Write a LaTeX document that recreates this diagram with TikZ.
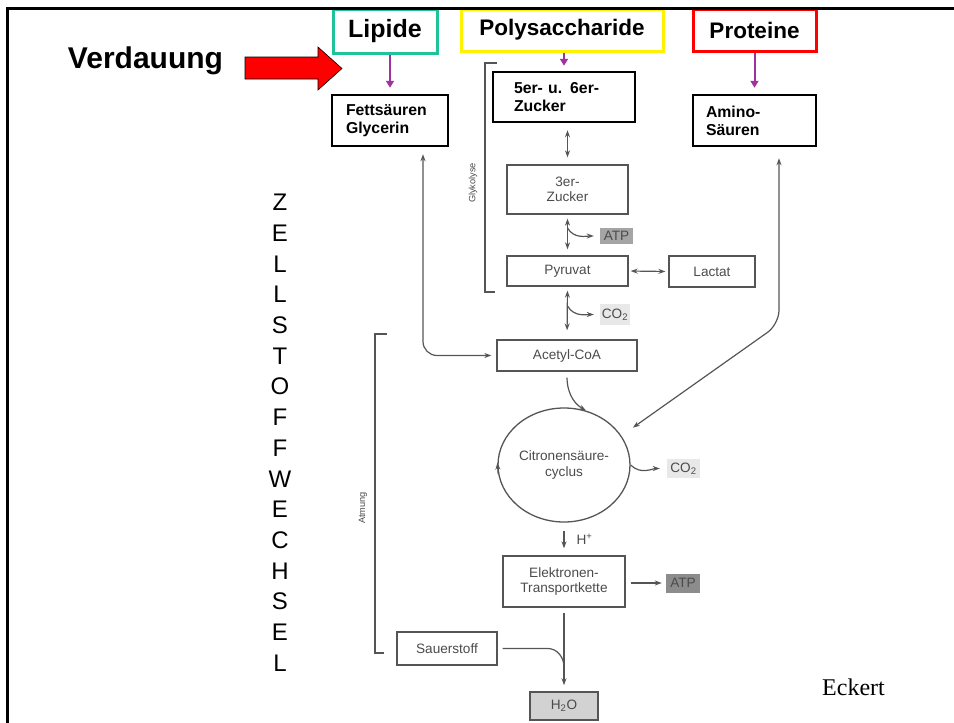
\documentclass[tikz,border=0pt]{standalone}
\usepackage{fontspec}
\setmainfont{Liberation Sans}
\newfontfamily\serifschrift{Liberation Serif}
\usepackage{tikz}
\usetikzlibrary{arrows.meta,shapes.geometric}

\definecolor{lipgruen}{RGB}{30,195,155}
\definecolor{lila}{RGB}{160,50,160}
\definecolor{strich}{RGB}{85,85,85}
\definecolor{schrift}{RGB}{75,75,75}
\definecolor{atpgrau}{RGB}{165,165,165}
\definecolor{atpdunkel}{RGB}{140,140,140}
\definecolor{co2grau}{RGB}{232,232,232}
\definecolor{wassergrau}{RGB}{210,210,210}

\tikzset{
 titel/.style={draw, line width=3pt, font=\bfseries\fontsize{22.5}{26}\selectfont, inner sep=0pt},
 stoff/.style={draw, line width=2.5pt, font=\bfseries\fontsize{15.8}{18}\selectfont, align=left, inner ysep=0pt},
 gbox/.style={draw=strich, line width=1.3pt, font=\fontsize{13.6}{15.5}\selectfont, text=schrift, align=center, inner sep=0pt},
 gtag/.style={font=\fontsize{13.6}{15}\selectfont, text=schrift, inner sep=0pt},
 gpfeil/.style={draw=strich, line width=1.2pt, -{Stealth[length=7pt,width=5pt]}},
 gdoppel/.style={draw=strich, line width=1.2pt, {Stealth[length=7pt,width=5pt]}-{Stealth[length=7pt,width=5pt]}},
 parrow/.style={draw=lila, line width=2pt, -{Triangle[length=7pt,width=8pt]}},
 klammer/.style={draw=strich, line width=1.2pt},
}

\begin{document}
\begin{tikzpicture}[x=1pt,y=1pt]
\useasboundingbox (0,0) rectangle (954,-723);
%----------------------------------
\node[font=\bfseries\fontsize{30}{34}\selectfont, anchor=base] (verdauung) at (145.5,-68) {Verdauung};
\draw[fill=red, draw=black, line width=0.6pt] (245,-57) -- (318,-57) -- (318,-47) -- (342,-68.5) -- (318,-90) -- (318,-79) -- (245,-79) -- cycle;
%----------------------------------
\node[titel, draw=lipgruen, font=\bfseries\fontsize{25}{28}\selectfont, minimum width=104pt, minimum height=44pt] (lipide) at (385,-31) {Lipide};
\node[titel, draw=yellow, minimum width=202pt, minimum height=42pt] (polysac) at (562,-30) {Polysaccharide};
\node[titel, draw=red, minimum width=123pt, minimum height=42pt] (proteine) at (754.5,-30) {Proteine};
%----------------------------------
\node[stoff, minimum height=51pt, text width=88pt, inner xsep=14pt] (fett) at (390,-120.5) {Fettsäuren\\Glycerin};
\node[stoff, minimum height=50pt, text width=100pt, inner xsep=21pt] (zucker56) at (564,-97) {5er- u. 6er-\\Zucker};
\node[stoff, minimum height=51pt, text width=97pt, inner xsep=13pt] (amino) at (754.5,-120.5) {Amino-\\Säuren};
\draw[parrow, shorten >=6pt] (lipide.south -| fett.north) -- (fett.north);
\draw[parrow, shorten >=5pt] (zucker56.north |- polysac.south) -- (zucker56.north);
\draw[parrow, shorten >=6pt] (proteine.south) -- (amino.north);
%----------------------------------
\node[gbox, minimum width=121pt, minimum height=49pt] (zucker3) at (567.5,-189.5) {3er-\\Zucker};
\node[gbox, minimum width=121pt, minimum height=30pt] (pyruvat) at (567.5,-271) {Pyruvat};
\node[gbox, minimum width=86pt, minimum height=31pt] (lactat) at (712,-271.5) {Lactat};
\node[gbox, minimum width=140pt, minimum height=31pt] (acetyl) at (567,-355.5) {Acetyl-CoA};
\node[gbox, ellipse, minimum width=132pt, minimum height=114pt] (cyclus) at (564,-465) {Citronensäure-\\cyclus};
\node[gbox, minimum width=122pt, minimum height=51pt] (etk) at (564,-581.5) {Elektronen-\\Transportkette};
\node[gbox, minimum width=100pt, minimum height=33pt] (sauerstoff) at (447,-648.5) {Sauerstoff};
\node[gbox, fill=wassergrau, line width=1.6pt, minimum width=68pt, minimum height=28pt] (wasser) at (564,-706) {H\textsubscript{2}O};
\node[gtag, fill=atpgrau, minimum width=33pt, minimum height=16pt] (atp1) at (616.5,-236) {ATP};
\node[gtag, fill=co2grau, minimum width=30pt, minimum height=21pt] (co2a) at (615,-314.5) {CO\textsubscript{2}};
\node[gtag, fill=co2grau, minimum width=33pt, minimum height=19pt] (co2b) at (683.5,-468.5) {CO\textsubscript{2}};
\node[gtag, fill=atpdunkel, minimum width=34pt, minimum height=19pt] (atp2) at (683,-583) {ATP};
\coordinate (abzw1) at (567.5,-228);
\coordinate (abzw2) at (567.5,-306);
\coordinate (treff) at (564,-667);
%----------------------------------
\draw[gdoppel, shorten <=7pt, shorten >=7pt] (zucker3.north |- zucker56.south) -- (zucker3.north);
\draw[gdoppel, shorten <=4pt, shorten >=6pt] (zucker3.south) -- (pyruvat.north);
\draw[gpfeil, shorten >=6pt] (abzw1) to[out=-60,in=180] (atp1.west);
\draw[gdoppel, shorten <=2pt, shorten >=3pt] (pyruvat.east) -- (lactat.west);
\draw[gdoppel, shorten <=4pt, shorten >=9pt] (pyruvat.south) -- (acetyl.north);
\draw[gpfeil, shorten >=6pt] (abzw2) to[out=-60,in=180] (co2a.west);
\draw[gdoppel, rounded corners=14pt, shorten <=7pt, shorten >=5pt] ([xshift=33pt]fett.south) |- (acetyl.west);
\draw[gdoppel, rounded corners=14pt, shorten <=11pt, shorten >=14pt] ([xshift=24.5pt]amino.south) -- ++(0,-177) -- (cyclus.27);
\draw[gpfeil, shorten <=6pt] (acetyl.south) to[out=-90,in=150] (cyclus.68);
\draw[gpfeil] (cyclus.188) -- (cyclus.178);
\draw[gpfeil, shorten >=7pt] (cyclus.east) to[out=-45,in=180] (co2b.west);
\draw[gpfeil, shorten <=8pt, shorten >=7pt] (cyclus.south) -- (etk.north) node[midway, right=12pt, gtag] (hplus) {H\textsuperscript{+}};
\draw[gpfeil, shorten <=5pt, shorten >=4pt] (etk.east |- atp2.west) -- (atp2.west);
\draw[gpfeil, shorten <=5pt, shorten >=6pt] (etk.south) -- (wasser.north);
\draw[klammer, shorten <=5pt] (sauerstoff.east) -- ++(50pt,0) to[out=0,in=90] (treff);
%----------------------------------
\draw[klammer] (497,-63) -- (485,-63) -- (485,-292) -- (495,-292);
\node[gtag, font=\fontsize{9.2}{10}\selectfont, rotate=90] (glykolyse) at (473,-183) {Glykolyse};
\draw[klammer] (387,-334) -- (375,-334) -- (375,-653) -- (384,-653);
\node[gtag, font=\fontsize{9.2}{10}\selectfont, rotate=90] (atmung) at (363,-508) {Atmung};
%----------------------------------
\node[font=\fontsize{24}{30.7}\selectfont, align=center, anchor=north, inner sep=0pt] (zellstoff) at (280,-194)
 {Z\\E\\L\\L\\S\\T\\O\\F\\F\\W\\E\\C\\H\\S\\E\\L};
\node[font=\serifschrift\fontsize{24}{28}\selectfont, anchor=base, inner sep=0pt] (eckert) at (853.5,-695) {Eckert};
%----------------------------------
\draw[line width=3pt] (7.3,-723) -- (7.3,-8.5) -- (954,-8.5);
\end{tikzpicture}
\end{document}
